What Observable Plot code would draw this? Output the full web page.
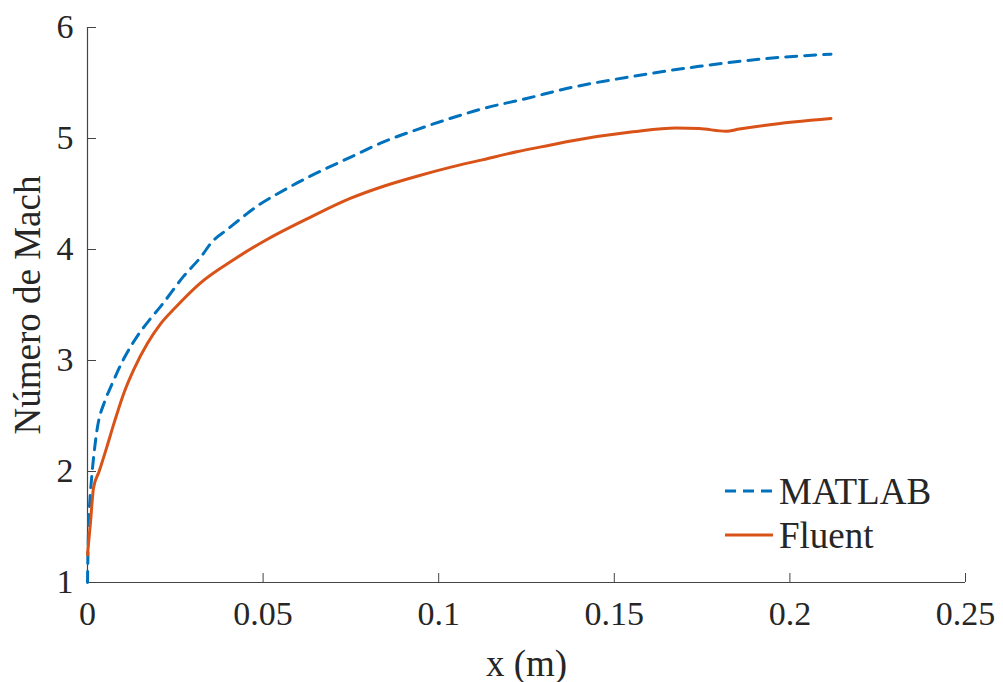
<!DOCTYPE html>
<html>
<head>
<meta charset="utf-8">
<script src="https://cdn.jsdelivr.net/npm/d3@7"></script>
<script src="https://cdn.jsdelivr.net/npm/@observablehq/plot@0.6"></script>
<style>
  html, body { margin: 0; padding: 0; background: #fff; }
  #wrap { position: relative; width: 1003px; height: 682px; font-family: "Liberation Serif", serif; color: #262626; }
  #legend { position: absolute; left: 725px; top: 469px; }
  .row { display: flex; align-items: center; height: 44px; font-size: 37px; }
  .row svg { margin-right: 6px; }
</style>
</head>
<body>
<div id="wrap"></div>
<script>
// ---- data ----
const seriesNames = ["MATLAB", "Fluent"];
const seriesColors = ["#0072BD", "#D95319"];

const matlabX = [0, 0.0001, 0.0003, 0.0007, 0.0012, 0.0026, 0.005, 0.0066, 0.0104, 0.0142, 0.018, 0.0209, 0.0274, 0.0322, 0.0355, 0.0398, 0.0445, 0.0492, 0.054, 0.0597, 0.0653, 0.0748, 0.0843, 0.0938, 0.1032, 0.1127, 0.125, 0.1364, 0.1553, 0.1742, 0.1932, 0.2117];
const matlabY = [1, 1.2, 1.5, 1.75, 1.95, 2.35, 2.64, 2.76, 3.02, 3.22, 3.38, 3.49, 3.76, 3.93, 4.07, 4.18, 4.30, 4.41, 4.50, 4.60, 4.69, 4.83, 4.97, 5.08, 5.18, 5.27, 5.36, 5.45, 5.56, 5.65, 5.72, 5.76];

const fluentX = [0, 0.0009, 0.0017, 0.0033, 0.0055, 0.0076, 0.0104, 0.0132, 0.017, 0.0208, 0.0251, 0.0322, 0.0417, 0.0511, 0.0634, 0.0748, 0.0843, 0.0938, 0.1032, 0.1127, 0.1222, 0.1316, 0.1364, 0.1553, 0.1676, 0.1742, 0.1818, 0.1856, 0.1932, 0.2117];
const fluentY = [1.25, 1.56, 1.85, 2.0, 2.22, 2.44, 2.71, 2.92, 3.15, 3.33, 3.48, 3.70, 3.91, 4.09, 4.29, 4.46, 4.57, 4.66, 4.74, 4.81, 4.88, 4.94, 4.97, 5.06, 5.095, 5.09, 5.065, 5.085, 5.12, 5.18];

const xTicks = [0, 0.05, 0.1, 0.15, 0.2, 0.25];
const xTickLabels = ["0", "0.05", "0.1", "0.15", "0.2", "0.25"];
const yTicks = [1, 2, 3, 4, 5, 6];
const yTickLabels = ["1", "2", "3", "4", "5", "6"];
const xLabel = "x (m)";
const yLabel = "Número de Mach";

// ---- build ----
const matlab = matlabX.map((x, i) => ({x, y: matlabY[i]}));
const fluent = fluentX.map((x, i) => ({x, y: fluentY[i]}));
const axisColor = "#262626";

const chart = Plot.plot({
  width: 1003,
  height: 682,
  marginLeft: 87,
  marginRight: 38,
  marginTop: 27,
  marginBottom: 100,
  style: { fontFamily: "'Liberation Serif', serif", fontSize: "34px", color: axisColor, background: "white" },
  x: { domain: [0, 0.25] },
  y: { domain: [1, 6] },
  marks: [
    Plot.axisX({ ticks: xTicks, tickFormat: d => xTickLabels[xTicks.indexOf(d)], tickSize: -9, tickPadding: 27, label: null, stroke: "#444", fill: axisColor }),
    Plot.axisY({ ticks: yTicks, tickFormat: d => yTickLabels[yTicks.indexOf(d)], tickSize: -9, tickPadding: 23, label: null, stroke: "#444", fill: axisColor }),
    Plot.ruleX([0], { stroke: "#444", strokeWidth: 1.2 }),
    Plot.ruleY([1], { stroke: "#444", strokeWidth: 1.2 }),
    Plot.line(matlab, { x: "x", y: "y", stroke: seriesColors[0], strokeWidth: 3, strokeDasharray: "11,8", curve: "monotone-x" }),
    Plot.line(fluent, { x: "x", y: "y", stroke: seriesColors[1], strokeWidth: 3, curve: "monotone-x" }),
    Plot.text([xLabel], { frameAnchor: "bottom", lineAnchor: "bottom", dy: 93, fontSize: 37, fill: axisColor }),
    Plot.text([yLabel], { frameAnchor: "left", textAnchor: "middle", lineAnchor: "bottom", rotate: -90, dx: -48, fontSize: 37, fill: axisColor })
  ]
});

const wrap = document.getElementById("wrap");
wrap.appendChild(chart);

// legend
const legend = document.createElement("div");
legend.id = "legend";
seriesNames.forEach((name, i) => {
  const row = document.createElement("div");
  row.className = "row";
  const dash = i === 0 ? 'stroke-dasharray="11,7"' : '';
  row.innerHTML = `<svg width="48" height="10"><line x1="0" y1="5" x2="48" y2="5" stroke="${seriesColors[i]}" stroke-width="3" ${dash}/></svg><span>${name}</span>`;
  legend.appendChild(row);
});
wrap.appendChild(legend);
</script>
</body>
</html>
